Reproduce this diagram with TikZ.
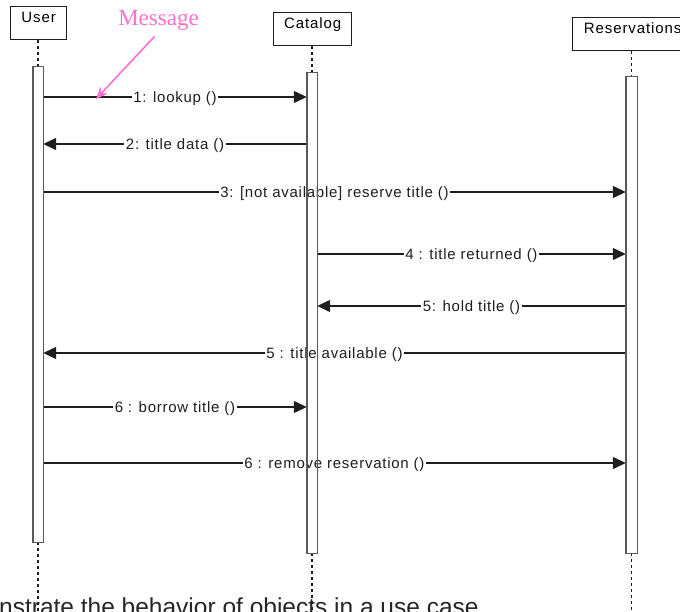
\documentclass[tikz,border=0pt]{standalone}
\usepackage{fontspec}
\setmainfont{Liberation Sans}
\newfontfamily\lblfont[LetterSpace=5]{Liberation Sans}
\newfontfamily\headfont[LetterSpace=6]{Liberation Sans}
\newfontfamily\notefont{Liberation Serif}
\usetikzlibrary{arrows.meta}
\definecolor{notepink}{HTML}{FF6FCF}
\definecolor{inkgray}{HTML}{1E1E1E}
\begin{document}
\begin{tikzpicture}[x=1pt, y=-1pt, >={Triangle[length=13pt,width=12pt]},
  lifebox/.style={draw=inkgray, line width=1.3pt, anchor=north west, inner sep=0pt, text height=16pt, text depth=17pt, font=\headfont\fontsize{15}{18}\selectfont},
  actbar/.style={inner sep=0pt, minimum width=10pt},
  barline/.style={draw=black!65, line width=1.4pt},
  msg/.style={fill=white, inner xsep=1.5pt, inner ysep=0pt, text height=10.7pt, text depth=0pt, font=\lblfont\fontsize{15}{18}\selectfont, text=inkgray},
  lifeline/.style={inkgray, line width=1.2pt, dash pattern=on 3pt off 3pt}]
\useasboundingbox (0,0) rectangle (680,612);

% objects
\node[lifebox, minimum width=56pt] (u) at (10,6) {User};
\node[lifebox, minimum width=78pt] (c) at (273,12) {Catalog};
\node[lifebox, minimum width=120pt] (r) at (572,17) {Reservations};

% activation bars
\node[actbar, minimum height=475pt] (ub) at (38,304.5) {};
\node[actbar, minimum height=480pt] (cb) at (312,313) {};
\node[actbar, minimum width=11pt, minimum height=476pt] (rb) at (631.5,315) {};

% lifelines
\draw[lifeline] (ub.north |- u.south) -- (ub.north);
\draw[lifeline] (cb.north |- c.south) -- (cb.north);
\draw[lifeline] (rb.north |- r.south) -- (rb.north);
\draw[lifeline] (ub.south) -- (ub.south |- 0,612);
\draw[lifeline] (cb.south) -- (cb.south |- 0,612);
\draw[lifeline] (rb.south) -- (rb.south |- 0,612);

% messages
\draw[->, line width=1.3pt, inkgray] (ub.east |- 0,97) -- node[msg] {1: lookup ()} (cb.west |- 0,97);
\draw[->, line width=1.3pt, inkgray] (cb.west |- 0,144) -- node[msg] {2: title data ()} (ub.east |- 0,144);
\draw[->, line width=1.3pt, inkgray] (ub.east |- 0,192) -- node[msg] {3: [not available] reserve title ()} (rb.west |- 0,192);
\draw[->, line width=1.3pt, inkgray] (cb.east |- 0,254) -- node[msg] {4 : title returned ()} (rb.west |- 0,254);
\draw[->, line width=1.3pt, inkgray] (rb.west |- 0,306) -- node[msg] {5: hold title ()} (cb.east |- 0,306);
\draw[->, line width=1.3pt, inkgray] (rb.west |- 0,353) -- node[msg] {5 : title available ()} (ub.east |- 0,353);
\draw[->, line width=1.3pt, inkgray] (ub.east |- 0,407) -- node[msg] {6 : borrow title ()} (cb.west |- 0,407);
\draw[->, line width=1.3pt, inkgray] (ub.east |- 0,463) -- node[msg] {6 : remove reservation ()} (rb.west |- 0,463);

\foreach \b in {ub,cb,rb}
  \draw[barline] (\b.north west) rectangle (\b.south east);

% note
\node[font=\notefont\fontsize{23}{26}\selectfont, text=notepink, inner sep=2pt] (note) at (158.5,20) {Message};
\coordinate (tip) at (96,99);
\draw[-{Stealth[length=12pt,width=10pt]}, notepink, line width=1.6pt, shorten <=6pt] (note.south) -- (tip);

\node[anchor=base west, inner sep=0pt, font=\fontsize{24.5}{28}\selectfont, text=black!85] (cap) at (-1,615) {nstrate the behavior of objects in a use case};
\end{tikzpicture}
\end{document}
